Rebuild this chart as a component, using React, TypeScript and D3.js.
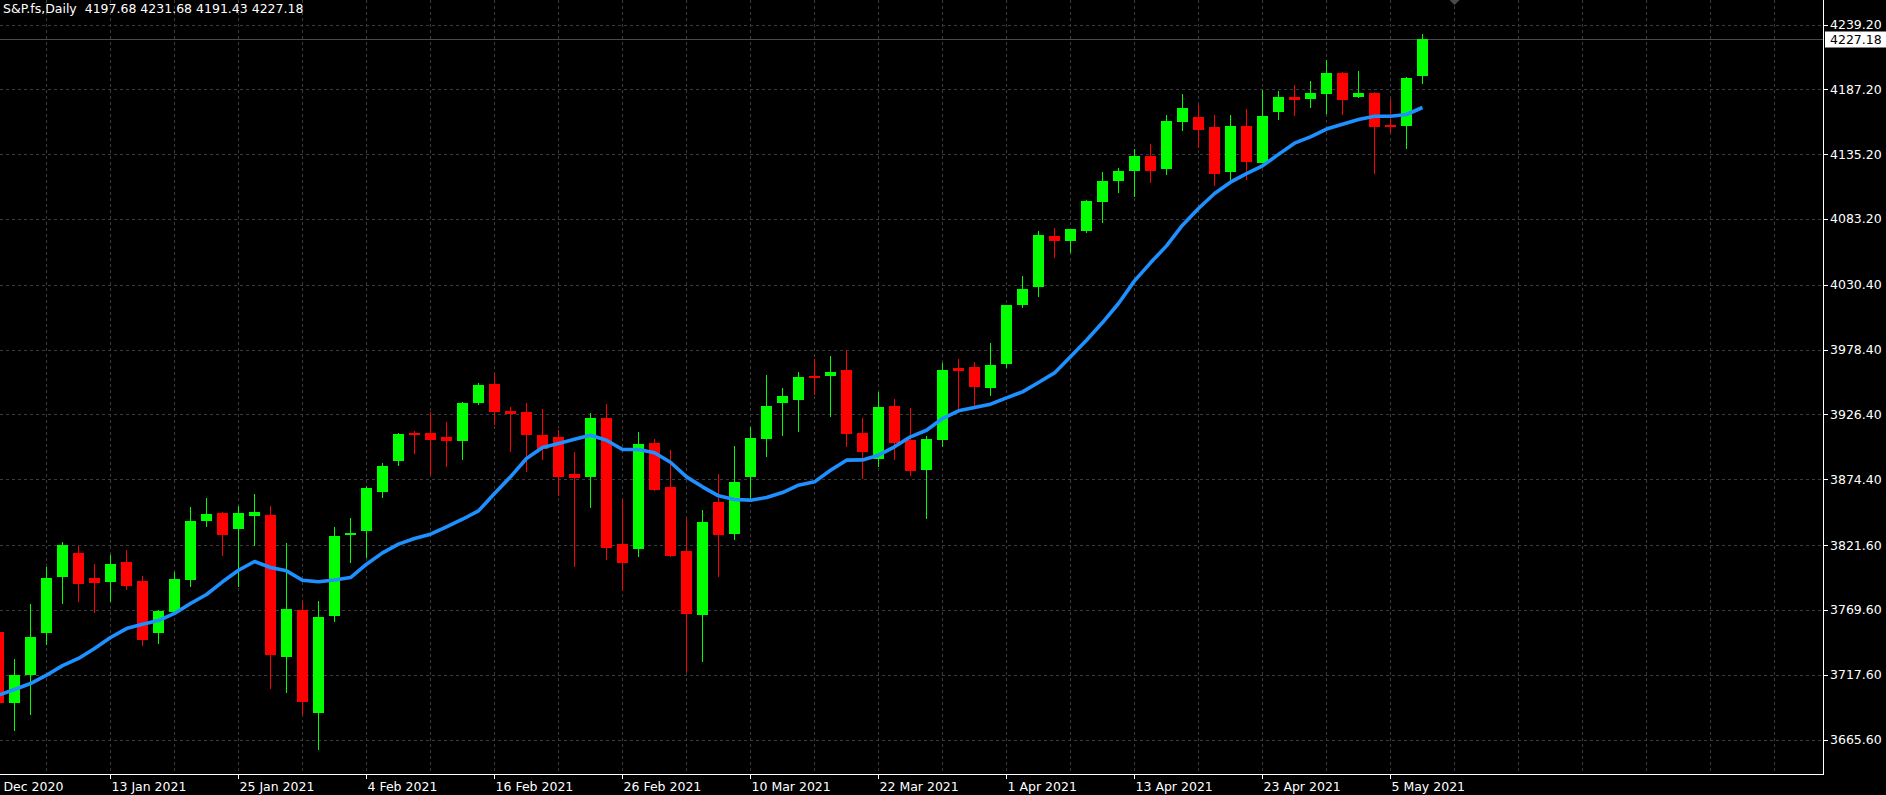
import { useEffect } from 'react';
import * as d3 from 'd3';

const symbolTitle = 'S&P.fs,Daily';
const lastQuote = [4197.68, 4231.68, 4191.43, 4227.18];

// daily bars, 4 Jan 2021 .. 7 May 2021
const opens = [
  3751.7, 3695.0, 3717.2, 3750.9, 3795.8, 3815.1, 3795.0, 3792.1, 3807.8, 3792.6,
  3750.9, 3767.5, 3793.7, 3841.0, 3847.1, 3834.6, 3845.0, 3845.5, 3731.9, 3769.3,
  3687.0, 3764.8, 3830.0, 3833.0, 3864.3, 3889.1, 3911.3, 3911.3, 3908.1, 3905.2,
  3935.7, 3950.6, 3929.0, 3928.2, 3909.7, 3908.1, 3878.4, 3876.0, 3923.4, 3822.3,
  3818.5, 3903.3, 3868.0, 3816.7, 3765.3, 3856.0, 3830.6, 3876.3, 3906.8, 3935.7,
  3938.1, 3957.1, 3957.3, 3961.9, 3911.3, 3890.7, 3933.0, 3905.7, 3881.9, 3906.0,
  3963.5, 3964.3, 3947.7, 3966.9, 4014.0, 4028.7, 4069.4, 4065.6, 4073.6, 4096.9,
  4113.8, 4121.8, 4133.5, 4123.4, 4161.1, 4164.8, 4156.8, 4121.0, 4157.6, 4128.2,
  4169.1, 4180.9, 4179.5, 4183.6, 4200.1, 4181.2, 4184.1, 4158.4, 4157.9, 4197.68,
];
const highs = [
  3766.0, 3730.0, 3774.7, 3803.6, 3823.9, 3820.7, 3806.2, 3813.5, 3817.5, 3797.1,
  3769.3, 3799.8, 3852.0, 3859.2, 3848.5, 3852.8, 3862.4, 3852.8, 3823.1, 3776.5,
  3776.5, 3835.9, 3843.2, 3869.3, 3887.8, 3911.6, 3913.2, 3928.5, 3920.2, 3936.2,
  3951.4, 3958.7, 3932.2, 3935.4, 3930.6, 3913.7, 3896.1, 3927.4, 3934.9, 3858.4,
  3912.1, 3906.5, 3897.7, 3842.3, 3849.6, 3878.4, 3900.9, 3916.1, 3957.9, 3947.4,
  3960.3, 3970.7, 3973.1, 3977.9, 3923.4, 3944.2, 3938.6, 3931.4, 3908.9, 3967.8,
  3970.7, 3968.3, 3983.5, 4014.5, 4037.3, 4073.4, 4075.8, 4075.2, 4098.2, 4120.7,
  4123.9, 4139.2, 4143.2, 4166.4, 4183.3, 4174.7, 4166.4, 4166.4, 4171.2, 4186.5,
  4185.7, 4190.5, 4193.7, 4210.6, 4200.9, 4201.7, 4184.9, 4179.5, 4196.9, 4231.68,
];
const lows = [
  3680.0, 3672.5, 3685.1, 3741.2, 3774.4, 3776.0, 3767.2, 3776.0, 3785.6, 3740.7,
  3742.3, 3766.9, 3787.8, 3836.2, 3812.9, 3788.1, 3820.9, 3705.9, 3703.0, 3685.1,
  3657.3, 3760.0, 3807.3, 3811.3, 3859.7, 3885.1, 3894.7, 3877.6, 3884.1, 3889.9,
  3934.1, 3917.7, 3896.4, 3880.3, 3889.9, 3860.8, 3804.1, 3851.4, 3809.7, 3784.6,
  3812.1, 3864.8, 3812.1, 3719.9, 3727.9, 3796.1, 3825.8, 3858.9, 3892.4, 3909.2,
  3912.4, 3941.8, 3924.4, 3900.1, 3874.7, 3884.3, 3890.0, 3877.1, 3842.6, 3900.4,
  3929.8, 3933.0, 3941.3, 3963.7, 4011.9, 4020.7, 4052.0, 4056.0, 4072.0, 4080.1,
  4104.1, 4100.9, 4112.2, 4118.6, 4153.6, 4140.2, 4109.7, 4114.3, 4114.6, 4127.7,
  4162.7, 4165.9, 4172.0, 4167.5, 4166.7, 4180.4, 4119.4, 4152.3, 4139.4, 4191.43,
];
const closes = [
  3695.0, 3717.2, 3747.7, 3795.0, 3821.5, 3790.5, 3791.3, 3806.2, 3788.9, 3745.5,
  3768.5, 3794.2, 3840.7, 3846.3, 3829.8, 3847.1, 3847.9, 3733.5, 3770.1, 3695.8,
  3763.7, 3828.7, 3831.6, 3867.2, 3884.9, 3910.5, 3910.0, 3906.0, 3905.2, 3935.4,
  3949.8, 3928.4, 3926.8, 3910.0, 3899.0, 3876.0, 3875.5, 3923.4, 3819.4, 3807.3,
  3902.5, 3865.9, 3812.9, 3766.4, 3839.9, 3829.8, 3872.0, 3907.4, 3933.0, 3941.0,
  3956.3, 3956.3, 3960.3, 3910.8, 3896.4, 3932.2, 3903.3, 3881.1, 3906.5, 3961.9,
  3961.4, 3948.5, 3965.9, 4014.0, 4026.8, 4070.2, 4065.6, 4075.0, 4097.4, 4113.5,
  4121.5, 4133.5, 4121.8, 4161.6, 4172.0, 4154.7, 4119.4, 4157.6, 4129.0, 4165.6,
  4180.9, 4178.7, 4184.1, 4200.1, 4178.7, 4184.1, 4157.1, 4157.1, 4196.1, 4227.18,
];
// moving average as drawn on the chart
const maValues = [
  3701.1, 3705.7, 3710.5, 3717.2, 3724.9, 3730.6, 3738.6, 3747.4, 3754.6, 3758.1,
  3761.0, 3766.7, 3774.7, 3781.9, 3792.1, 3801.4, 3808.4, 3803.6, 3800.9, 3793.4,
  3792.1, 3793.6, 3795.5, 3806.2, 3815.3, 3822.3, 3826.8, 3830.3, 3836.2, 3842.3,
  3849.0, 3863.0, 3876.3, 3891.0, 3899.8, 3903.0, 3906.5, 3909.7, 3905.7, 3898.2,
  3898.2, 3895.6, 3888.0, 3876.3, 3868.3, 3861.1, 3858.1, 3857.6, 3859.7, 3863.7,
  3869.6, 3872.3, 3881.6, 3889.7, 3889.9, 3893.7, 3900.4, 3908.4, 3913.7, 3923.1,
  3929.3, 3931.9, 3934.6, 3939.7, 3944.5, 3952.0, 3959.7, 3972.6, 3985.9, 4000.1,
  4015.4, 4033.5, 4048.0, 4061.6, 4078.2, 4091.6, 4103.6, 4112.7, 4119.6, 4125.8,
  4135.0, 4144.0, 4149.0, 4155.3, 4159.2, 4163.0, 4165.6, 4165.6, 4167.0, 4172.6,
];

const priceTicks = [
  4239.2, 4187.2, 4135.2, 4083.2, 4030.4, 3978.4, 3926.4, 3874.4, 3821.6, 3769.6,
  3717.6, 3665.6,
];
const dateTickBars = [-1, 7, 15, 23, 31, 39, 47, 55, 63, 71, 79, 87];
const dateTickLabels = [
  '31 Dec 2020', '13 Jan 2021', '25 Jan 2021', '4 Feb 2021', '16 Feb 2021', '26 Feb 2021',
  '10 Mar 2021', '22 Mar 2021', '1 Apr 2021', '13 Apr 2021', '23 Apr 2021', '5 May 2021',
];

const W = 1886;
const H = 795;
const axisX = 1823.5;
const axisY = 774.5;
const FONT = '"DejaVu Sans", Verdana, sans-serif';
const UP = '#00ff00';
const DOWN = '#ff0000';

export default function App() {
  useEffect(() => {
    document.body.style.margin = '0';
    document.body.style.background = '#000';
    document.body.style.overflow = 'hidden';
  }, []);

  const x = d3.scaleLinear().domain([0, 89]).range([-1.5, 1422.5]);
  const y = d3.scaleLinear().domain([3665.6, 4239.2]).range([739.5, 24.5]);

  // vertical grid every 4 bars up to the price axis
  const gridBars = d3.range(3, 115, 4).filter((b) => x(b) < axisX);
  const bodyW = 11;
  const last = lastQuote[3];

  const maLine = d3
    .line<number>()
    .x((_d, i) => x(i))
    .y((d) => y(d));

  return (
    <svg
      width={W}
      height={H}
      style={{ display: 'block', background: '#000', fontFamily: FONT }}
    >
      <rect x={0} y={0} width={W} height={H} fill="#000" />
      <defs>
        <clipPath id="plot">
          <rect x={0} y={0} width={axisX} height={axisY} />
        </clipPath>
      </defs>

      {/* grid */}
      <g stroke="#3c3c3c" strokeWidth={1} strokeDasharray="3,3" shapeRendering="crispEdges">
        {priceTicks.map((p) => (
          <line key={'h' + p} x1={0} x2={axisX} y1={Math.round(y(p)) + 0.5} y2={Math.round(y(p)) + 0.5} />
        ))}
        {gridBars.map((b) => (
          <line key={'v' + b} x1={x(b)} x2={x(b)} y1={0} y2={axisY} />
        ))}
      </g>

      {/* last price line */}
      <line
        x1={0}
        x2={axisX}
        y1={Math.round(y(last)) + 0.5}
        y2={Math.round(y(last)) + 0.5}
        stroke="#4a4a4a"
        strokeWidth={1}
        shapeRendering="crispEdges"
      />

      {/* candles */}
      <g clipPath="url(#plot)" shapeRendering="crispEdges">
        {closes.map((c, i) => {
          const o = opens[i];
          const col = c >= o ? UP : DOWN;
          const top = Math.round(y(Math.max(o, c)));
          const bot = Math.round(y(Math.min(o, c)));
          return (
            <g key={i}>
              <line
                x1={x(i)}
                x2={x(i)}
                y1={Math.round(y(highs[i]))}
                y2={Math.round(y(lows[i]))}
                stroke={col}
                strokeWidth={1}
              />
              <rect
                x={x(i) - bodyW / 2}
                y={top}
                width={bodyW}
                height={Math.max(2, bot - top)}
                fill={col}
              />
            </g>
          );
        })}
      </g>

      {/* moving average */}
      <path
        d={maLine(maValues) || ''}
        fill="none"
        stroke="#1e90ff"
        strokeWidth={3.6}
        strokeLinejoin="round"
        clipPath="url(#plot)"
      />

      {/* chart shift marker */}
      <path
        d={`M${x(91) - 5},0 L${x(91) + 5},0 L${x(91)},5 Z`}
        fill="#4a4a4a"
      />

      {/* axes */}
      <g stroke="#ffffff" strokeWidth={1} shapeRendering="crispEdges">
        <line x1={axisX} x2={axisX} y1={0} y2={axisY} />
        <line x1={0} x2={axisX} y1={axisY} y2={axisY} />
        {priceTicks.map((p) => (
          <line key={'yt' + p} x1={axisX} x2={axisX + 4} y1={Math.round(y(p)) + 0.5} y2={Math.round(y(p)) + 0.5} />
        ))}
        {dateTickBars.map((b) => (
          <line key={'xt' + b} x1={x(b)} x2={x(b)} y1={axisY} y2={axisY + 4} />
        ))}
      </g>

      {/* price labels */}
      <g fill="#ffffff" fontSize={12.5}>
        {priceTicks.map((p) => (
          <text key={'yl' + p} x={1830} y={y(p)} dominantBaseline="central">
            {p.toFixed(2)}
          </text>
        ))}
      </g>

      {/* current price tag */}
      <rect x={1825} y={Math.round(y(last)) - 7.5} width={61} height={16} fill="#ffffff" />
      <text x={1830} y={y(last) + 0.5} fontSize={12.5} fill="#000" dominantBaseline="central">
        {last.toFixed(2)}
      </text>

      {/* date labels */}
      <g fill="#ffffff" fontSize={12.5}>
        {dateTickBars.map((b, i) => (
          <text key={'xl' + b} x={x(b) + 1} y={786.5} dominantBaseline="central">
            {dateTickLabels[i]}
          </text>
        ))}
      </g>

      {/* title */}
      <text x={3} y={8.5} fontSize={12.5} fill="#ffffff" dominantBaseline="central" xmlSpace="preserve">
        {`${symbolTitle}  ${lastQuote.map((v) => v.toFixed(2)).join(' ')}`}
      </text>
    </svg>
  );
}
